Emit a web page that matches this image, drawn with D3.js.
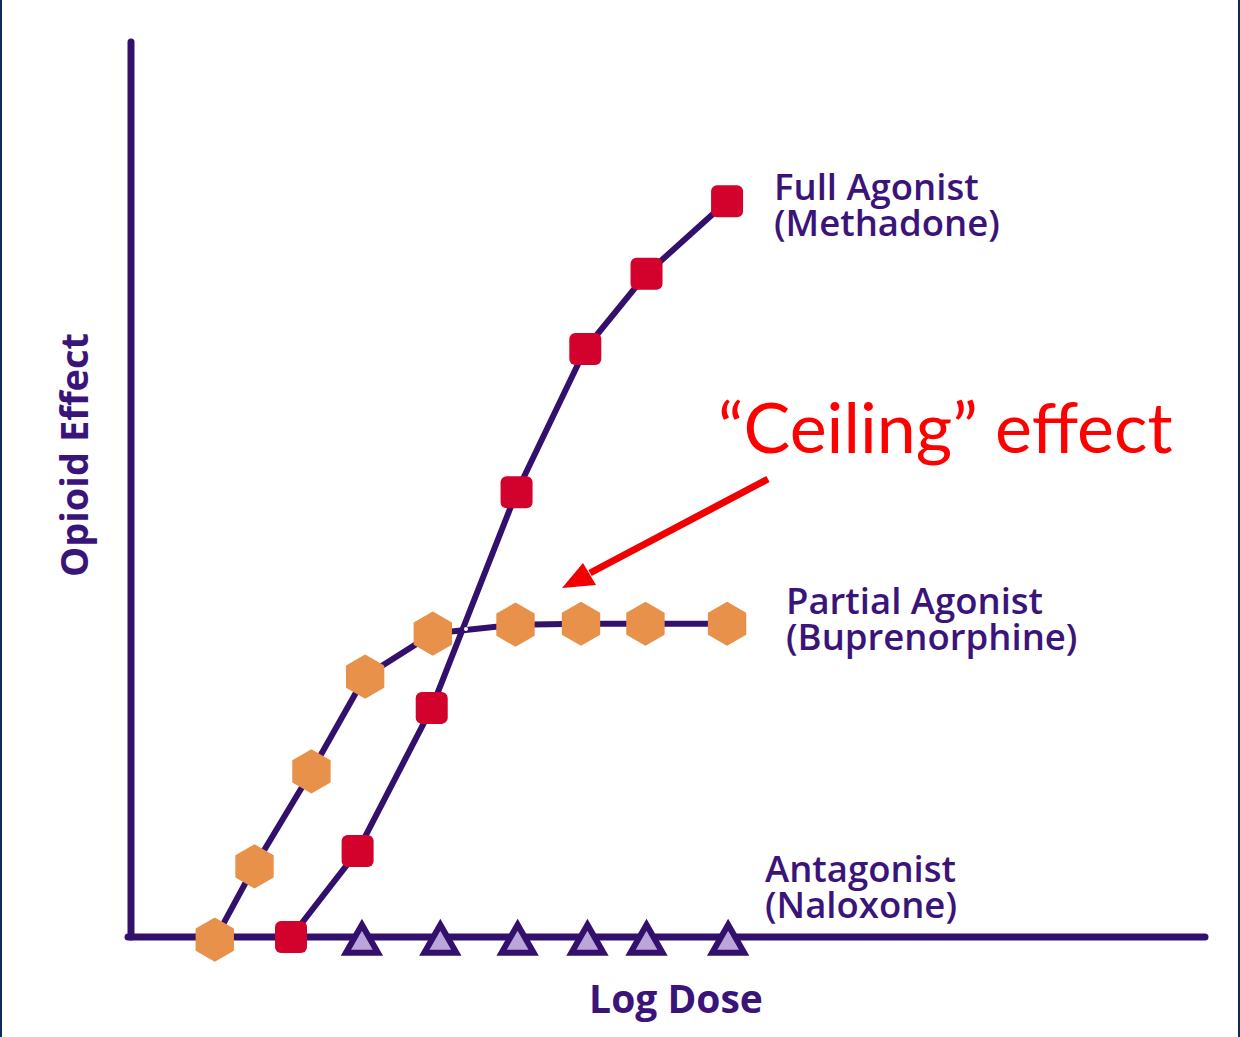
<!DOCTYPE html>
<head>
    <meta charset="utf-8">
    <title>Opioid dose response</title>
    <style>
        html, body { margin: 0; padding: 0; background: #fff; }
        svg { display: block; }
    </style>
</head>
<body>

<svg width="1240" height="1037"></svg>

<script src="https://cdn.jsdelivr.net/npm/d3@7"></script>

<script>

// log dose positions (arbitrary units) and opioid effect (% of max)
var partialDose   = [0.78, 1.15, 1.68, 2.18, 2.81, 3.58, 4.19, 4.79, 5.55];
var partialEffect = [-0.3, 7.9, 18.5, 29.1, 33.9, 34.9, 35.0, 35.0, 35.0];

var fullDose   = [1.49, 2.11, 2.80, 3.59, 4.23, 4.80, 5.55];
var fullEffect = [0, 9.6, 25.6, 49.7, 65.7, 74.1, 82.2];

var antagDose   = [2.15, 2.88, 3.60, 4.25, 4.80, 5.56];
var antagEffect = [-0.3, -0.3, -0.3, -0.3, -0.3, -0.3];

var seriesLabels = [
    ['Full Agonist', '(Methadone)'],
    ['Partial Agonist', '(Buprenorphine)'],
    ['Antagonist', '(Naloxone)']
];

var svg = d3.select('svg'),
    width = +svg.attr('width'),
    height = +svg.attr('height');

var purple = '#33106c',
    textPurple = '#3b1479',
    orange = '#e8914a',
    red = '#d2022c';

var x = d3.scaleLinear().domain([0, 10]).range([131, 1205]);
var y = d3.scaleLinear().domain([0, 100]).range([937, 42]);

// thin dark frame at the left / right edges
svg.append('rect').attr('x', 0).attr('y', 0).attr('width', 2).attr('height', height).attr('fill', '#0d2a5c');
svg.append('rect').attr('x', width - 2).attr('y', 0).attr('width', 2).attr('height', height).attr('fill', '#0d2a5c');

// axes (no ticks, just the two lines)
svg.append('line')
    .attr('x1', x(0)).attr('x2', x(0))
    .attr('y1', y(0)).attr('y2', y(100))
    .attr('stroke', purple).attr('stroke-width', 7).attr('stroke-linecap', 'round');
svg.append('line')
    .attr('x1', x(0) - 3).attr('x2', x(10))
    .attr('y1', y(0)).attr('y2', y(0))
    .attr('stroke', purple).attr('stroke-width', 7).attr('stroke-linecap', 'round');

var line = d3.line()
    .x(d => x(d[0]))
    .y(d => y(d[1]));

var partial = d3.zip(partialDose, partialEffect),
    full = d3.zip(fullDose, fullEffect),
    antag = d3.zip(antagDose, antagEffect);

svg.append('path').datum(partial)
    .attr('d', line).attr('fill', 'none')
    .attr('stroke', purple).attr('stroke-width', 6).attr('stroke-linejoin', 'round');

svg.append('path').datum(full)
    .attr('d', line).attr('fill', 'none')
    .attr('stroke', purple).attr('stroke-width', 6).attr('stroke-linejoin', 'round');

// little white gap where the two curves cross
svg.append('circle')
    .attr('cx', 466).attr('cy', 629).attr('r', 2).attr('fill', '#fff');

// hexagon markers (pointy top)
function hexagon(r) {
    var pts = d3.range(6).map(i => {
        var a = Math.PI / 3 * i - Math.PI / 2;
        return [r * Math.cos(a), r * Math.sin(a)];
    });
    return 'M' + pts.join('L') + 'Z';
}

svg.selectAll('.hex')
    .data(partial)
    .enter().append('path')
        .attr('class', 'hex')
        .attr('transform', d => `translate(${x(d[0])},${y(d[1])})`)
        .attr('d', hexagon(21))
        .attr('fill', orange)
        .attr('stroke', orange).attr('stroke-width', 2).attr('stroke-linejoin', 'round');

// red rounded squares
svg.selectAll('.sq')
    .data(full)
    .enter().append('rect')
        .attr('class', 'sq')
        .attr('x', d => x(d[0]) - 16)
        .attr('y', d => y(d[1]) - 16)
        .attr('width', 32).attr('height', 32)
        .attr('rx', 6)
        .attr('fill', red);

// triangles for the antagonist
svg.selectAll('.tri')
    .data(antag)
    .enter().append('path')
        .attr('class', 'tri')
        .attr('transform', d => `translate(${x(d[0])},${y(d[1])})`)
        .attr('d', 'M0,-15L16,13L-16,13Z')
        .attr('fill', '#bba6da')
        .attr('stroke', purple).attr('stroke-width', 6).attr('stroke-linejoin', 'miter');

// series labels, one text per line
var labelPos = [[774, 200], [786, 614], [765, 882]];
seriesLabels.forEach((lines, i) => {
    lines.forEach((s, j) => {
        svg.append('text')
            .attr('x', labelPos[i][0]).attr('y', labelPos[i][1] + j * 36)
            .attr('fill', textPurple)
            .style('font-family', '"Open Sans", sans-serif')
            .style('font-size', '36.5px')
            .style('font-weight', 600)
            .text(s);
    });
});

// axis titles
svg.append('text')
    .attr('transform', 'translate(88,455) rotate(-90)')
    .attr('text-anchor', 'middle')
    .attr('fill', textPurple)
    .style('font-family', '"Open Sans", sans-serif')
    .style('font-size', '38px')
    .style('font-weight', 700)
    .text('Opioid Effect');

svg.append('text')
    .attr('x', 676).attr('y', 1013)
    .attr('text-anchor', 'middle')
    .attr('fill', textPurple)
    .style('font-family', '"Open Sans", sans-serif')
    .style('font-size', '39px')
    .style('font-weight', 700)
    .text('Log Dose');

// ceiling annotation
svg.append('text')
    .attr('x', 718).attr('y', 453)
    .attr('fill', '#ff0000')
    .style('font-family', 'Lato, "Open Sans", sans-serif')
    .style('font-size', '70px')
    .text('\u201CCeiling\u201D effect');

svg.append('line')
    .attr('x1', 768).attr('y1', 479)
    .attr('x2', 590).attr('y2', 573)
    .attr('stroke', '#f00000').attr('stroke-width', 7);
svg.append('path')
    .attr('d', 'M562,588L583,563L596,585Z')
    .attr('fill', '#f00000');

</script>

</body>
